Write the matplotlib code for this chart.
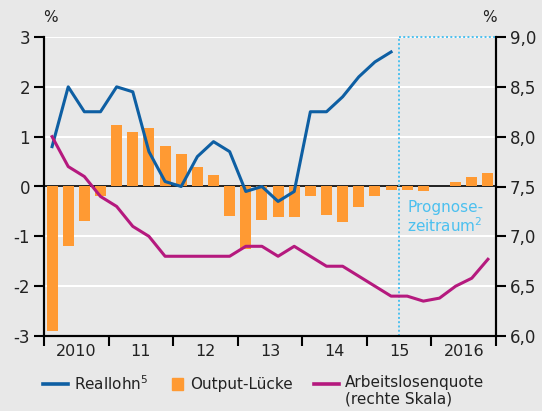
import numpy as np
import matplotlib
matplotlib.use("Agg")
import matplotlib.pyplot as plt
from matplotlib.lines import Line2D
from matplotlib.patches import Rectangle

plt.rcParams['font.family'] = ['DejaVu Sans']
plt.rcParams['mathtext.fontset'] = 'dejavusans'
plt.rcParams['mathtext.default'] = 'regular'

# quarterly data 2010Q1 .. 2016Q4
reallohn = [0.8, 2.0, 1.5, 1.5, 2.0, 1.9, 0.7, 0.1,
            0.0, 0.6, 0.9, 0.7, -0.1, 0.0, -0.3, -0.1,
            1.5, 1.5, 1.8, 2.2, 2.5, 2.7]
output_gap = [-2.9, -1.2, -0.7, -0.2, 1.24, 1.1, 1.18, 0.82,
              0.66, 0.4, 0.24, -0.6, -1.25, -0.67, -0.61, -0.61,
              -0.19, -0.58, -0.72, -0.42, -0.19, -0.07, -0.08, -0.1,
              0.02, 0.09, 0.19, 0.27]
alq = [8.0, 7.7, 7.6, 7.4, 7.3, 7.1, 7.0, 6.8,
       6.8, 6.8, 6.8, 6.8, 6.9, 6.9, 6.8, 6.9,
       6.8, 6.7, 6.7, 6.6, 6.5, 6.4, 6.4, 6.35,
       6.38, 6.5, 6.58, 6.77]
years = ['2010', '11', '12', '13', '14', '15', '2016']
left_ticks = [3, 2, 1, 0, -1, -2, -3]
right_vals = [6, 6.5, 7, 7.5, 8, 8.5, 9]
right_ticks = ['6,0', '6,5', '7,0', '7,5', '8,0', '8,5', '9,0']

bg = '#e8e8e8'
c_blue = '#0e5fa3'
c_orange = '#ff9a33'
c_mag = '#b5197e'
c_cyan = '#4cc0ef'
c_txt = '#222222'

W, H = 542, 411
fig = plt.figure(figsize=(W / 100, H / 100), dpi=100, facecolor=bg)
ax = fig.add_axes([44 / W, 1 - 336 / H, (496 - 44) / W, (336 - 37) / H], facecolor=bg)
ax2 = ax.twinx()

x_bar = np.arange(len(output_gap)) + 0.5
x_rl = np.arange(len(reallohn)) + 0.5
x_alq = np.arange(len(alq)) + 0.5

for v in [1, 2, 3, -1, -2]:
    ax.axhline(v, color='white', lw=1.5, zorder=0)
ax.axhline(0, color='black', lw=1.2, zorder=1)

ax.bar(x_bar, output_gap, width=0.68, color=c_orange, zorder=2)
ax.plot(x_rl, reallohn, color=c_blue, lw=2.2, zorder=4)
ax2.plot(x_alq, alq, color=c_mag, lw=2.2, zorder=3)

# forecast period
ax.plot([22, 22], [-3, 3], color=c_cyan, lw=1.4, ls=(0, (1, 1.2)), zorder=5, clip_on=False)
ax.plot([22, 28], [3, 3], color=c_cyan, lw=1.4, ls=(0, (1, 1.2)), zorder=5, clip_on=False)
ax.text(22.5, -0.28, 'Prognose-\nzeitraum$^{2}$', color=c_cyan, fontsize=11,
        ha='left', va='top', linespacing=1.05, zorder=6)

ax.set_xlim(0, 28)
ax.set_ylim(-3, 3)
ax2.set_ylim(6, 9)

ax.set_yticks(left_ticks)
ax.set_yticklabels([str(t) for t in left_ticks])
ax2.set_yticks(right_vals)
ax2.set_yticklabels(right_ticks)

ax.set_xticks(np.arange(0, 29, 4))
ax.set_xticklabels([])
ax.set_xticks(np.arange(2, 28, 4), minor=True)
ax.set_xticklabels(years, minor=True)
ax.tick_params(axis='x', which='major', length=7, width=1.5, direction='out')
ax.tick_params(axis='x', which='minor', length=0, pad=6, labelsize=11.5, colors=c_txt)
ax.tick_params(axis='y', length=7, width=1.5, labelsize=12, pad=3, labelcolor=c_txt)
ax2.tick_params(axis='y', length=7, width=1.5, labelsize=12, pad=3, labelcolor=c_txt)

for a in (ax, ax2):
    a.spines['top'].set_visible(False)
    for s in ['left', 'right', 'bottom']:
        a.spines[s].set_linewidth(1.5)
        a.spines[s].set_color('black')

fig.text(50 / W, 1 - 18 / H, '%', fontsize=11, ha='center', va='center', color=c_txt)
fig.text(489 / W, 1 - 18 / H, '%', fontsize=11, ha='center', va='center', color=c_txt)

# legend, drawn by hand
ly = 1 - 384 / H
fig.add_artist(Line2D([43 / W, 68 / W], [ly, ly], color=c_blue, lw=2.6))
fig.text(74 / W, ly, 'Reallohn$^{5}$', fontsize=11, ha='left', va='center', color=c_txt)
fig.add_artist(Rectangle((172 / W, 1 - 390 / H), 11 / W, 12 / H, color=c_orange))
fig.text(190 / W, ly, 'Output-L\u00fccke', fontsize=11, ha='left', va='center', color=c_txt)
fig.add_artist(Line2D([314 / W, 339 / W], [ly, ly], color=c_mag, lw=2.6))
fig.text(345 / W, 1 - 375 / H, 'Arbeitslosenquote\n(rechte Skala)', fontsize=11,
         ha='left', va='top', linespacing=1.1, color=c_txt)

fig.savefig('out.png', dpi=100, facecolor=bg)
